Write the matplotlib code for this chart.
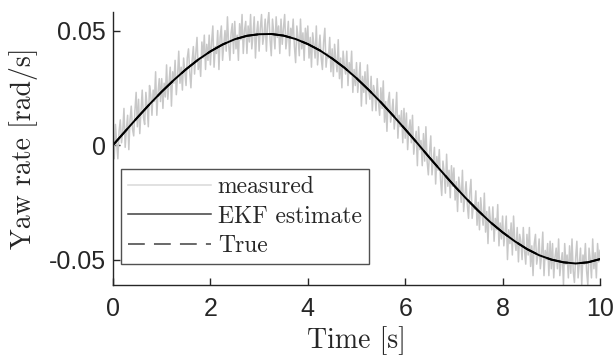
import numpy as np
import matplotlib
matplotlib.use("Agg")
import matplotlib.pyplot as plt
from matplotlib.ticker import FixedLocator, FixedFormatter

# ---- data (units of 1e-3 rad/s) ----
t_meas = np.linspace(0, 10, 401)
measured = np.array([
    4, -6, 9, 1, -6, 6, 11, 1, 6, 16, -1, 7, 13, -2, 11, 17, 7, 4, 15, 23,
    8, 20, 5, 15, 24, 12, 9, 23, 17, 8, 26, 22, 13, 24, 19, 32, 13, 23, 29, 19,
    29, 16, 27, 21, 35, 20, 27, 34, 17, 32, 27, 37, 22, 30, 41, 27, 34, 24, 38, 32,
    26, 38, 42, 32, 25, 37, 43, 31, 40, 47, 33, 38, 30, 45, 38, 48, 33, 44, 37, 48,
    35, 45, 52, 34, 43, 40, 50, 33, 47, 52, 37, 44, 50, 41, 56, 44, 37, 49, 53, 40,
    54, 42, 48, 37, 53, 46, 57, 40, 50, 54, 40, 52, 45, 57, 42, 48, 56, 38, 49, 54,
    41, 51, 57, 44, 48, 55, 41, 53, 58, 46, 39, 55, 49, 42, 56, 47, 52, 40, 55, 44,
    51, 57, 42, 47, 54, 39, 51, 47, 55, 43, 36, 52, 47, 39, 55, 42, 49, 37, 51, 44,
    52, 38, 47, 34, 49, 44, 38, 52, 35, 42, 48, 38, 33, 45, 51, 34, 40, 38, 47, 32,
    42, 30, 44, 37, 32, 46, 29, 38, 25, 41, 35, 31, 41, 26, 36, 31, 41, 23, 33, 26,
    36, 23, 29, 36, 17, 30, 23, 32, 18, 35, 24, 20, 30, 15, 26, 23, 15, 29, 19, 13,
    25, 16, 28, 10, 19, 6, 19, 23, 10, 14, 20, 7, 13, 23, 3, 13, 8, 15, 1, 16,
    3, 14, -2, 7, 11, 1, 13, -4, 2, 6, -9, 8, -2, 2, -9, 5, -7, 8, -7, -13,
    -3, 4, -13, -7, -1, -17, -5, -11, -2, -15, -22, -7, -12, -21, -4, -18, -11, -23, -9, -18,
    -10, -24, -16, -29, -14, -19, -25, -11, -29, -22, -16, -26, -32, -21, -15, -32, -26, -28, -20, -35,
    -25, -37, -23, -30, -35, -21, -38, -29, -43, -27, -33, -37, -27, -42, -32, -37, -26, -44, -34, -41,
    -31, -44, -38, -31, -50, -37, -43, -34, -48, -31, -42, -46, -36, -51, -39, -42, -50, -36, -46, -52,
    -39, -48, -36, -53, -44, -57, -43, -39, -52, -48, -41, -54, -48, -38, -57, -46, -50, -43, -57, -42,
    -54, -43, -58, -49, -45, -54, -41, -57, -51, -47, -61, -43, -52, -48, -58, -44, -56, -41, -55, -60,
    -49, -42, -58, -52, -45, -61, -48, -52, -43, -55, -61, -45, -50, -58, -41, -54, -47, -58, -43, -51,
    -46,
]) * 1e-3

t_est = np.linspace(0, 10, 41)
ekf_estimate = np.array([
    0.0, 6.0, 12.0, 17.8, 23.3, 28.4, 33.1, 37.3, 40.9, 43.9,
    46.2, 47.7, 48.4, 48.5, 47.8, 46.3, 44.1, 41.3, 37.8, 33.8,
    29.2, 24.1, 18.7, 12.9, 6.9, 0.8, -5.5, -11.6, -17.6, -23.3,
    -28.7, -33.7, -38.1, -42.0, -45.4, -48.1, -50.0, -51.2, -51.7, -51.2,
    -49.8,
]) * 1e-3
true_values = ekf_estimate.copy()

xticks = [0, 2, 4, 6, 8, 10]
xtick_labels = ["0", "2", "4", "6", "8", "10"]
yticks = [-0.05, 0, 0.05]
ytick_labels = ["-0.05", "0", "0.05"]

# ---- figure ----
fig = plt.figure(figsize=(6.14, 3.56), dpi=100)
ax = fig.add_axes([113 / 614, 1 - 285 / 356, 487 / 614, 273 / 356])

axcol = "#262626"
ax.plot(t_meas, measured, color="#c8c8c8", lw=1.1, label="measured")
ax.plot(t_est, ekf_estimate, color="black", lw=1.4, label="EKF estimate")
ax.plot(t_est, true_values, color="black", lw=1.4, ls=(0, (11, 6)), label="True")

ax.set_xlim(0, 10)
ax.set_ylim(-0.0611, 0.0581)
ax.xaxis.set_major_locator(FixedLocator(xticks))
ax.xaxis.set_major_formatter(FixedFormatter(xtick_labels))
ax.yaxis.set_major_locator(FixedLocator(yticks))
ax.yaxis.set_major_formatter(FixedFormatter(ytick_labels))

for s in ["top", "right"]:
    ax.spines[s].set_visible(False)
for s in ["left", "bottom"]:
    ax.spines[s].set_color(axcol)
    ax.spines[s].set_linewidth(1.0)

ax.tick_params(direction="in", length=5, width=1.0, colors=axcol, labelsize=18)
ax.tick_params(axis="x", pad=8.5)
ax.tick_params(axis="y", pad=5)
for lab in ax.get_xticklabels() + ax.get_yticklabels():
    lab.set_family("Liberation Sans")

serif = "cmr10"
ax.set_xlabel("Time [s]", family=serif, fontsize=20, color=axcol, labelpad=4)
ax.set_ylabel("Yaw rate [rad/s]", family=serif, fontsize=20, color=axcol, labelpad=8)

leg = ax.legend(loc="lower left", bbox_to_anchor=(0.0164, 0.077),
                prop={"family": serif, "size": 17}, frameon=True,
                fancybox=False, edgecolor=axcol, handlelength=3.5,
                borderaxespad=0, borderpad=0.3, labelspacing=0.3,
                handletextpad=0.3)
leg.get_frame().set_linewidth(1.0)
for txt in leg.get_texts():
    txt.set_color(axcol)
hs = leg.legend_handles
hs[0].set_color("#d8d8d8")
hs[1].set_color("#404040")
hs[1].set_linewidth(1.1)
hs[2].set_color("#404040")
hs[2].set_linewidth(1.1)

fig.savefig("out.png", dpi=100)
